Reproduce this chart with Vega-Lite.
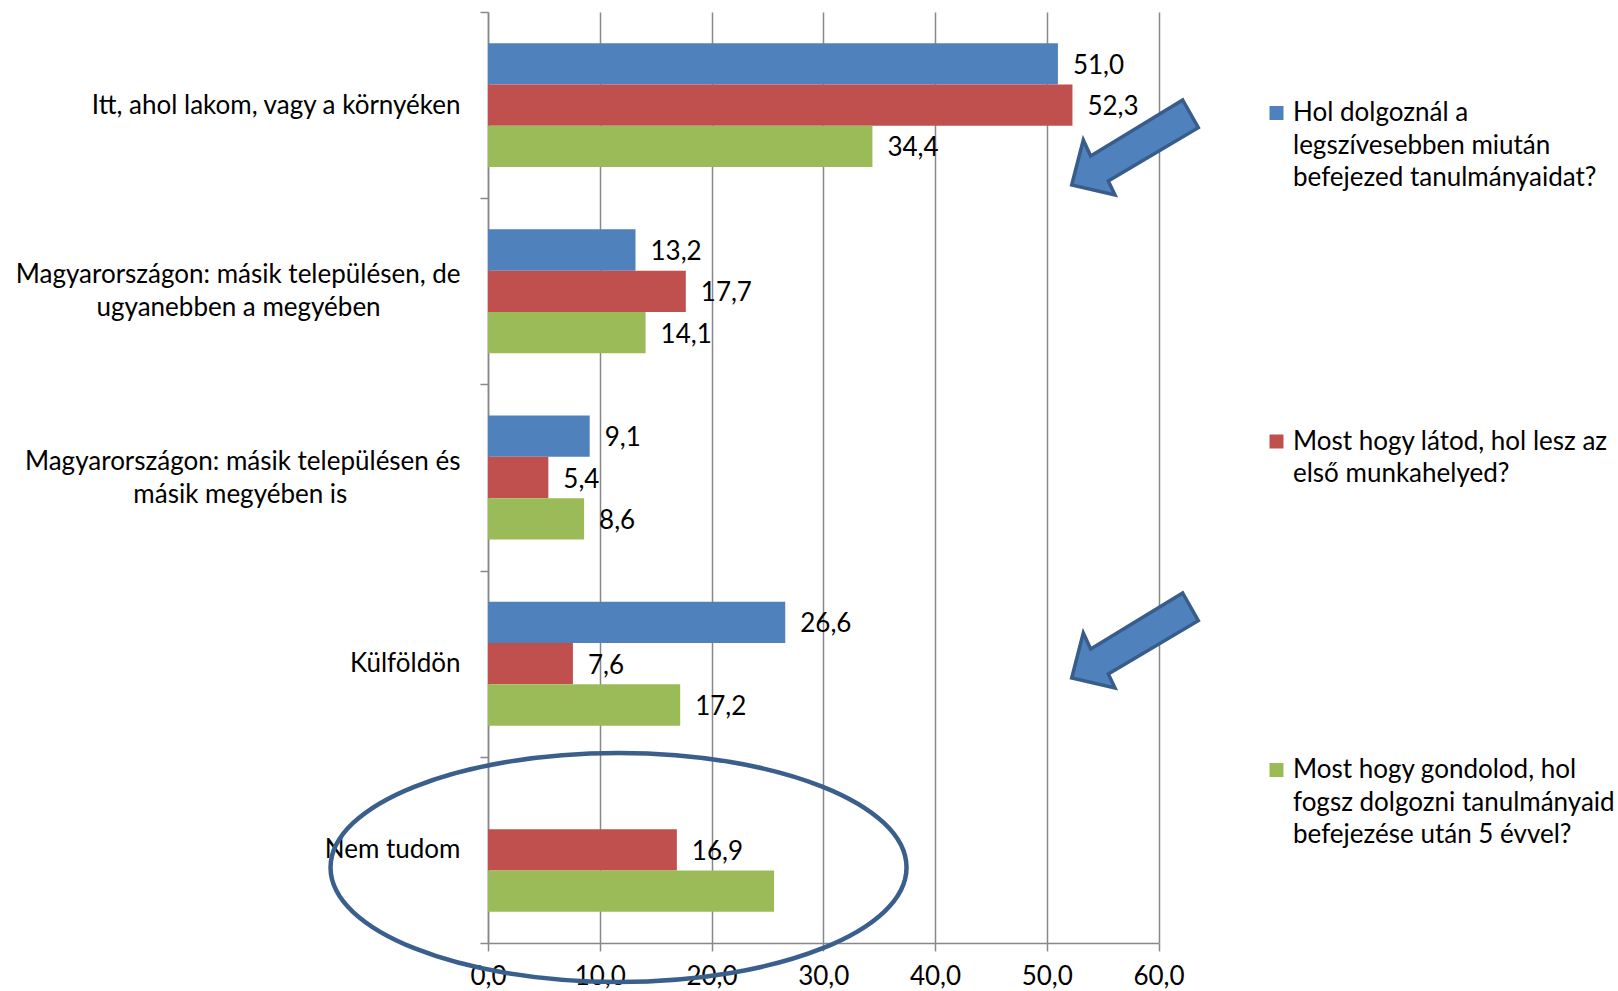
{
  "$schema": "https://vega.github.io/schema/vega-lite/v6.json",
  "autosize": "none",
  "width": 670.5,
  "height": 931,
  "padding": {"left": 488, "top": 12, "right": 459.5, "bottom": 48},
  "background": "white",
  "config": {
    "font": "Lato",
    "locale": {"number": {"decimal": ",", "thousands": " ", "grouping": [3], "currency": ["", " Ft"]}},
    "view": {"stroke": null},
    "style": {"guide-label": {"lineHeight": 32.5}},
    "axis": {
      "domainColor": "#888888", "domainWidth": 1.5,
      "tickColor": "#888888", "tickWidth": 1.5, "tickSize": 8,
      "gridColor": "#888888", "gridWidth": 1.5,
      "labelFontSize": 26, "labelColor": "#000000", "labelFont": "Lato"
    },
    "legend": {"labelFont": "Lato"}
  },
  "datasets": {
    "bars": [
      {"cat": "Itt, ahol lakom, vagy a környéken", "series": "Hol dolgoznál a legszívesebben miután befejezed tanulmányaidat?", "value": 51.0, "label": 51.0},
      {"cat": "Itt, ahol lakom, vagy a környéken", "series": "Most hogy látod, hol lesz az első munkahelyed?", "value": 52.3, "label": 52.3},
      {"cat": "Itt, ahol lakom, vagy a környéken", "series": "Most hogy gondolod, hol fogsz dolgozni tanulmányaid befejezése után 5 évvel?", "value": 34.4, "label": 34.4},
      {"cat": "Magyarországon: másik településen, de ugyanebben a megyében", "series": "Hol dolgoznál a legszívesebben miután befejezed tanulmányaidat?", "value": 13.2, "label": 13.2},
      {"cat": "Magyarországon: másik településen, de ugyanebben a megyében", "series": "Most hogy látod, hol lesz az első munkahelyed?", "value": 17.7, "label": 17.7},
      {"cat": "Magyarországon: másik településen, de ugyanebben a megyében", "series": "Most hogy gondolod, hol fogsz dolgozni tanulmányaid befejezése után 5 évvel?", "value": 14.1, "label": 14.1},
      {"cat": "Magyarországon: másik településen és másik megyében is", "series": "Hol dolgoznál a legszívesebben miután befejezed tanulmányaidat?", "value": 9.1, "label": 9.1},
      {"cat": "Magyarországon: másik településen és másik megyében is", "series": "Most hogy látod, hol lesz az első munkahelyed?", "value": 5.4, "label": 5.4},
      {"cat": "Magyarországon: másik településen és másik megyében is", "series": "Most hogy gondolod, hol fogsz dolgozni tanulmányaid befejezése után 5 évvel?", "value": 8.6, "label": 8.6},
      {"cat": "Külföldön", "series": "Hol dolgoznál a legszívesebben miután befejezed tanulmányaidat?", "value": 26.6, "label": 26.6},
      {"cat": "Külföldön", "series": "Most hogy látod, hol lesz az első munkahelyed?", "value": 7.6, "label": 7.6},
      {"cat": "Külföldön", "series": "Most hogy gondolod, hol fogsz dolgozni tanulmányaid befejezése után 5 évvel?", "value": 17.2, "label": 17.2},
      {"cat": "Nem tudom", "series": "Most hogy látod, hol lesz az első munkahelyed?", "value": 16.9, "label": 16.9},
      {"cat": "Nem tudom", "series": "Most hogy gondolod, hol fogsz dolgozni tanulmányaid befejezése után 5 évvel?", "value": 25.6, "label": null}
    ],
    "one": [{"note": "annotation"}]
  },
  "layer": [
    {
      "data": {"name": "bars"},
      "mark": {"type": "bar"},
      "encoding": {
        "y": {
          "field": "cat", "type": "nominal", "title": null,
          "scale": {
            "domain": ["Itt, ahol lakom, vagy a környéken", "Magyarországon: másik településen, de ugyanebben a megyében", "Magyarországon: másik településen és másik megyében is", "Külföldön", "Nem tudom"],
            "paddingInner": 0, "paddingOuter": 0
          },
          "axis": {
            "grid": false,
            "tickBand": "extent",
            "labelLimit": 600,
            "labelPadding": 20,
            "labelOffset": -16.5,
            "labelLineHeight": 16.5,
            "labelExpr": "datum.label == 'Magyarországon: másik településen, de ugyanebben a megyében' ? ['Magyarországon: másik településen, de', '\u200b', 'ugyanebben a megyében\u00a0\u00a0\u00a0\u00a0\u00a0\u00a0\u00a0\u00a0\u00a0\u00a0\u00a0\u00a0\u200b'] : datum.label == 'Magyarországon: másik településen és másik megyében is' ? ['Magyarországon: másik településen és', '\u200b', 'másik megyében is\u00a0\u00a0\u00a0\u00a0\u00a0\u00a0\u00a0\u00a0\u00a0\u00a0\u00a0\u00a0\u00a0\u00a0\u00a0\u00a0\u00a0\u200b'] : ['', datum.label]"
          }
        },
        "yOffset": {
          "field": "series", "type": "nominal",
          "scale": {
            "domain": ["Hol dolgoznál a legszívesebben miután befejezed tanulmányaidat?", "Most hogy látod, hol lesz az első munkahelyed?", "Most hogy gondolod, hol fogsz dolgozni tanulmányaid befejezése után 5 évvel?"],
            "paddingInner": 0, "paddingOuter": 0.754
          }
        },
        "x": {
          "field": "value", "type": "quantitative", "title": null,
          "scale": {"domain": [0, 60], "nice": false},
          "axis": {"values": [0, 10, 20, 30, 40, 50, 60], "format": ".1f", "grid": true, "labelPadding": 12, "labelFlush": false, "labelOverlap": false}
        },
        "color": {
          "field": "series", "type": "nominal",
          "scale": {
            "domain": ["Hol dolgoznál a legszívesebben miután befejezed tanulmányaidat?", "Most hogy látod, hol lesz az első munkahelyed?", "Most hogy gondolod, hol fogsz dolgozni tanulmányaid befejezése után 5 évvel?"],
            "range": ["#4F81BD", "#C0504D", "#9BBB59"]
          },
          "legend": {
            "orient": "none", "legendX": 775.5, "legendY": 88, "title": null,
            "symbolType": "square", "symbolSize": 196, "symbolStrokeWidth": 0, "symbolOpacity": 1,
            "labelFontSize": 26, "labelColor": "#000000", "labelLimit": 600, "labelOffset": 3.5,
            "rowPadding": 237.5,
            "labelExpr": "datum.label == 'Hol dolgoznál a legszívesebben miután befejezed tanulmányaidat?' ? ['Hol dolgoznál a', 'legszívesebben miután', 'befejezed tanulmányaidat?'] : datum.label == 'Most hogy látod, hol lesz az első munkahelyed?' ? ['Most hogy látod, hol lesz az', 'első munkahelyed?', ''] : ['Most hogy gondolod, hol', 'fogsz dolgozni tanulmányaid', 'befejezése után 5 évvel?']"
          }
        }
      }
    },
    {
      "data": {"name": "bars"},
      "transform": [{"filter": "datum.label != null"}],
      "mark": {"type": "text", "align": "left", "baseline": "middle", "dx": 15, "dy": 2, "fontSize": 26, "color": "#000000"},
      "encoding": {
        "y": {"field": "cat", "type": "nominal"},
        "yOffset": {"field": "series", "type": "nominal"},
        "x": {"field": "value", "type": "quantitative"},
        "text": {"field": "label", "type": "quantitative", "format": ".1f"}
      }
    },
    {
      "data": {"name": "one"},
      "mark": {"type": "point", "shape": "M 2.88 0.176 C 2.88 0.808 1.591 1.321 0 1.321 C -1.591 1.321 -2.88 0.808 -2.88 0.176 C -2.88 -0.456 -1.591 -0.969 0 -0.969 C 1.591 -0.969 2.88 -0.456 2.88 0.176 Z", "filled": false, "stroke": "#3A5F8C", "strokeWidth": 4.5, "size": 40000, "opacity": 1},
      "encoding": {"x": {"datum": 11.68, "type": "quantitative"}, "y": {"datum": "Nem tudom", "type": "nominal"}}
    },
    {
      "data": {"name": "one"},
      "mark": {"type": "point", "shape": "M 0.242 -0.051 L 0.398 0.226 L -0.502 0.759 L -0.435 0.899 L -0.868 0.799 L -0.752 0.349 L -0.678 0.509 Z", "filled": true, "fill": "#4F81BD", "stroke": "#385D8A", "strokeWidth": 3.5, "size": 40000, "opacity": 1},
      "encoding": {"x": {"datum": 60, "type": "quantitative"}, "y": {"datum": "Itt, ahol lakom, vagy a környéken", "type": "nominal"}}
    },
    {
      "data": {"name": "one"},
      "mark": {"type": "point", "shape": "M 0.242 -0.707 L 0.398 -0.430 L -0.502 0.103 L -0.435 0.243 L -0.868 0.143 L -0.752 -0.307 L -0.678 -0.147 Z", "filled": true, "fill": "#4F81BD", "stroke": "#385D8A", "strokeWidth": 3.5, "size": 40000, "opacity": 1},
      "encoding": {"x": {"datum": 60, "type": "quantitative"}, "y": {"datum": "Külföldön", "type": "nominal"}}
    }
  ]
}
